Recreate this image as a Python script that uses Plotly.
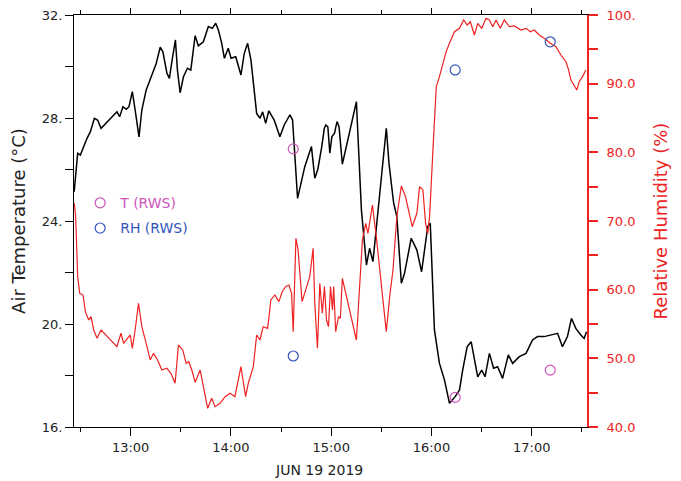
import pandas as pd
import plotly.graph_objects as go

DAY = pd.Timestamp("2019-06-19")

# air temperature trace (minutes after midnight, degC)
t_min = [746.2, 748.3, 749.9, 751.9, 753.9, 755.9, 758.3, 760.2, 762.3, 771.8,
         773.4, 775.4, 777.4, 779.0, 781.0, 782.7, 785.0, 786.7, 789.3, 792.7,
         795.3, 797.7, 799.3, 801.7, 803.2, 804.8, 806.8, 808.0, 809.6, 811.6,
         814.0, 816.0, 818.6, 820.5, 823.5, 826.5, 828.9, 830.9, 832.5, 834.5,
         836.1, 838.4, 840.1, 842.9, 846.0, 848.0, 850.0, 852.0, 854.0, 855.4,
         857.4, 859.0, 860.8, 862.7, 865.9, 869.3, 871.9, 875.3, 876.9, 877.8,
         879.9, 884.2, 888.2, 890.2, 892.0, 894.4, 895.9, 896.8, 898.0, 899.2,
         900.4, 902.0, 903.5, 904.7, 906.7, 915.1, 918.1, 921.1, 923.0, 925.0,
         933.0, 934.6, 937.4, 939.3, 942.0, 943.9, 947.9, 951.3, 954.1, 957.8,
         959.3, 961.8, 964.8, 967.8, 970.8, 974.2, 976.8, 978.7, 981.4, 983.8,
         986.1, 987.7, 990.1, 992.1, 994.7, 997.2, 999.6, 1002.6, 1006.0, 1008.6,
         1012.6, 1016.6, 1020.5, 1023.5, 1027.5, 1031.5, 1035.5, 1038.4, 1041.4, 1043.8,
         1046.4, 1049.4, 1051.4, 1052.8]
t_val = [25.14, 26.63, 26.56, 26.89, 27.21, 27.47, 27.99, 27.92, 27.60, 28.24,
         28.05, 28.44, 28.34, 28.44, 29.02, 28.31, 27.27, 28.31, 29.09, 29.67,
         30.12, 30.75, 30.57, 29.74, 29.54, 30.25, 31.03, 29.86, 28.98, 29.60,
         29.93, 29.86, 31.20, 30.80, 30.96, 31.55, 31.48, 31.68, 31.42, 30.90,
         30.32, 30.71, 30.32, 30.38, 29.67, 30.51, 30.90, 30.25, 28.96, 28.18,
         27.99, 28.24, 27.79, 28.28, 27.92, 27.27, 27.73, 28.12, 27.92, 27.02,
         24.88, 26.11, 26.89, 25.66, 26.00, 26.90, 27.60, 27.73, 27.66, 26.63,
         27.27, 27.41, 27.86, 27.66, 26.21, 28.63, 24.43, 22.29, 22.94, 22.42,
         27.60, 26.24, 24.69, 24.17, 21.58, 21.97, 23.33, 22.87, 22.03, 23.78,
         23.91, 19.77, 18.47, 17.83, 16.92, 17.18, 17.44, 18.21, 19.12, 19.31,
         18.47, 17.95, 18.21, 17.95, 18.86, 18.28, 18.34, 17.89, 18.80, 18.47,
         18.73, 18.86, 19.38, 19.51, 19.51, 19.57, 19.64, 19.12, 19.51, 20.22,
         19.83, 19.57, 19.44, 19.70]

# relative humidity trace (minutes after midnight, %)
rh_min = [746.3, 747.1, 748.3, 749.5, 751.5, 752.9, 754.9, 756.3, 757.9, 759.9,
          762.3, 771.8, 774.2, 775.8, 778.1, 779.8, 781.0, 782.7, 784.7, 786.7,
          789.3, 791.7, 793.7, 796.1, 798.7, 801.7, 804.1, 806.6, 808.6, 811.2,
          813.2, 814.8, 816.6, 818.6, 821.6, 823.5, 826.1, 828.5, 830.5, 833.5,
          836.5, 839.5, 842.4, 846.0, 847.4, 848.8, 850.4, 853.4, 855.4, 857.4,
          859.3, 862.0, 863.9, 866.3, 868.7, 870.7, 872.7, 874.7, 876.3, 877.3,
          878.9, 880.2, 882.6, 887.2, 889.2, 890.2, 891.8, 893.2, 894.7, 896.0,
          897.2, 898.4, 899.6, 900.8, 901.5, 902.7, 904.4, 905.5, 906.7, 915.1,
          918.7, 920.7, 922.0, 924.7, 927.0, 933.0, 935.0, 937.0, 939.3, 942.0,
          944.5, 946.9, 948.5, 951.3, 952.9, 954.9, 956.5, 957.8, 958.9, 960.8,
          962.9, 964.8, 966.8, 968.8, 970.8, 973.8, 976.8, 979.3, 981.4, 983.3,
          985.7, 987.7, 990.1, 992.7, 994.7, 996.7, 998.7, 1001.2, 1003.6, 1006.6,
          1009.6, 1013.6, 1016.6, 1019.2, 1021.5, 1024.5, 1027.5, 1031.1, 1034.5, 1037.5,
          1040.5, 1041.8, 1043.5, 1045.4, 1047.0, 1048.4, 1050.4, 1052.4]
rh_val = [72.58, 70.63, 61.89, 59.47, 59.22, 56.80, 55.58, 56.07, 54.13, 52.92,
          54.13, 51.70, 53.65, 52.19, 52.92, 53.40, 51.46, 54.13, 58.02, 54.61,
          52.19, 49.76, 50.73, 49.76, 48.30, 48.55, 47.82, 46.37, 51.94, 51.22,
          49.28, 49.51, 48.30, 46.50, 48.30, 45.87, 42.72, 44.18, 42.96, 43.45,
          44.42, 44.91, 44.42, 48.78, 46.60, 44.42, 46.37, 48.78, 53.40, 52.67,
          54.61, 54.37, 58.50, 59.23, 58.25, 59.71, 60.44, 60.68, 59.47, 53.89,
          67.48, 65.78, 58.25, 61.89, 66.03, 58.02, 51.46, 60.93, 56.56, 60.44,
          55.58, 54.61, 60.44, 57.04, 60.44, 53.88, 56.07, 55.83, 61.66, 52.67,
          67.24, 69.67, 68.21, 72.33, 67.72, 53.88, 58.98, 62.86, 70.63, 75.10,
          73.54, 70.63, 69.17, 71.12, 75.00, 74.52, 69.67, 68.21, 70.63, 79.86,
          89.56, 91.02, 92.96, 94.66, 95.88, 97.57, 98.06, 99.27, 98.54, 99.02,
          97.09, 98.79, 98.06, 99.52, 99.27, 98.30, 99.27, 98.06, 99.27, 98.30,
          98.40, 97.82, 98.06, 97.57, 97.82, 97.09, 96.60, 95.88, 95.38, 94.17,
          93.20, 92.24, 90.53, 89.81, 89.08, 90.29, 91.02, 91.99]

# RWS reference readings
rws_min = [877.3, 974.2, 1031.1]
rws_t = [26.80, 17.15, 18.21]
rws_rh = [50.34, 92.0, 96.1]

t_ticks = [16, 20, 24, 28, 32]
t_labels = ["16.", "20.", "24.", "28.", "32."]
rh_ticks = [40, 50, 60, 70, 80, 90, 100]
rh_labels = ["40.0", "50.0", "60.0", "70.0", "80.0", "90.0", "100."]

RED = "#ee2222"
FONT = "DejaVu Sans"


def to_time(m):
    return DAY + pd.to_timedelta(m, unit="m")


fig = go.Figure()
fig.add_trace(go.Scatter(x=to_time(t_min), y=t_val, mode="lines",
                         line=dict(color="black", width=1.5), showlegend=False))
fig.add_trace(go.Scatter(x=to_time(rh_min), y=rh_val, mode="lines", yaxis="y2",
                         line=dict(color=RED, width=1.2), showlegend=False))
fig.add_trace(go.Scatter(x=to_time(rws_min), y=rws_t, mode="markers", legendgroup="t",
                         name='<span style="color:#cc55bb">T (RWS)</span>',
                         marker=dict(symbol="circle-open", size=10, color="#cc55bb", line=dict(width=1.2))))
fig.add_trace(go.Scatter(x=to_time(rws_min), y=rws_rh, mode="markers", yaxis="y2", legendgroup="rh",
                         name='<span style="color:#3355bb">RH (RWS)</span>',
                         marker=dict(symbol="circle-open", size=10, color="#3355bb", line=dict(width=1.2))))

# the page body adds an 8px offset, so the figure is sized to fit the window
fig.update_layout(
    width=673, height=473,
    margin=dict(l=66, r=93.5, t=7, b=54, autoexpand=False),
    paper_bgcolor="white", plot_bgcolor="white",
    font=dict(family=FONT, color="#222222"),
    showlegend=True,
    legend=dict(x=0.012, y=0.582, xanchor="left", yanchor="top", bgcolor="rgba(0,0,0,0)",
                font=dict(size=14), itemwidth=30, tracegroupgap=4),
    xaxis=dict(
        type="date", automargin=False,
        range=[str(to_time(746.1)), str(to_time(1053.1))],
        tick0=str(DAY + pd.Timedelta(hours=13)), dtick=3600000, tickformat="%H:%M",
        ticks="outside", ticklen=8, tickcolor="black",
        minor=dict(dtick=1800000, ticks="outside", ticklen=4, tickcolor="black"),
        showline=True, linecolor="black", linewidth=1, mirror="ticks",
        showgrid=False, zeroline=False,
        tickfont=dict(size=13),
    ),
    yaxis=dict(
        automargin=False, ticklabeloverflow="allow",
        range=[16, 32], tickvals=t_ticks, ticktext=t_labels,
        ticks="outside", ticklen=8, tickcolor="black",
        minor=dict(dtick=2, ticks="outside", ticklen=8, tickcolor="black"),
        showline=True, linecolor="black", linewidth=1,
        showgrid=False, zeroline=False,
        tickfont=dict(size=13),
        title=dict(text="Air Temperature (°C)", font=dict(size=18), standoff=16),
    ),
    yaxis2=dict(
        overlaying="y", side="right", automargin=False, ticklabeloverflow="allow",
        range=[40, 100], tickvals=rh_ticks, ticktext=rh_labels,
        ticks="outside", ticklen=9, tickcolor=RED, tickwidth=1.5,
        minor=dict(dtick=5, ticks="outside", ticklen=9, tickcolor=RED, tickwidth=1.5),
        showline=True, linecolor=RED, linewidth=2,
        showgrid=False, zeroline=False,
        ticklabelstandoff=6,
        tickfont=dict(size=13, color=RED),
        title=dict(text="Relative Humidity (%)", font=dict(size=18, color=RED), standoff=20),
    ),
    annotations=[dict(text="JUN 19 2019", x=0.477, xref="paper", y=0, yref="paper",
                      yshift=-43, yanchor="middle", showarrow=False,
                      font=dict(size=14, color="#222222"))],
)

fig.write_html("out.html")
